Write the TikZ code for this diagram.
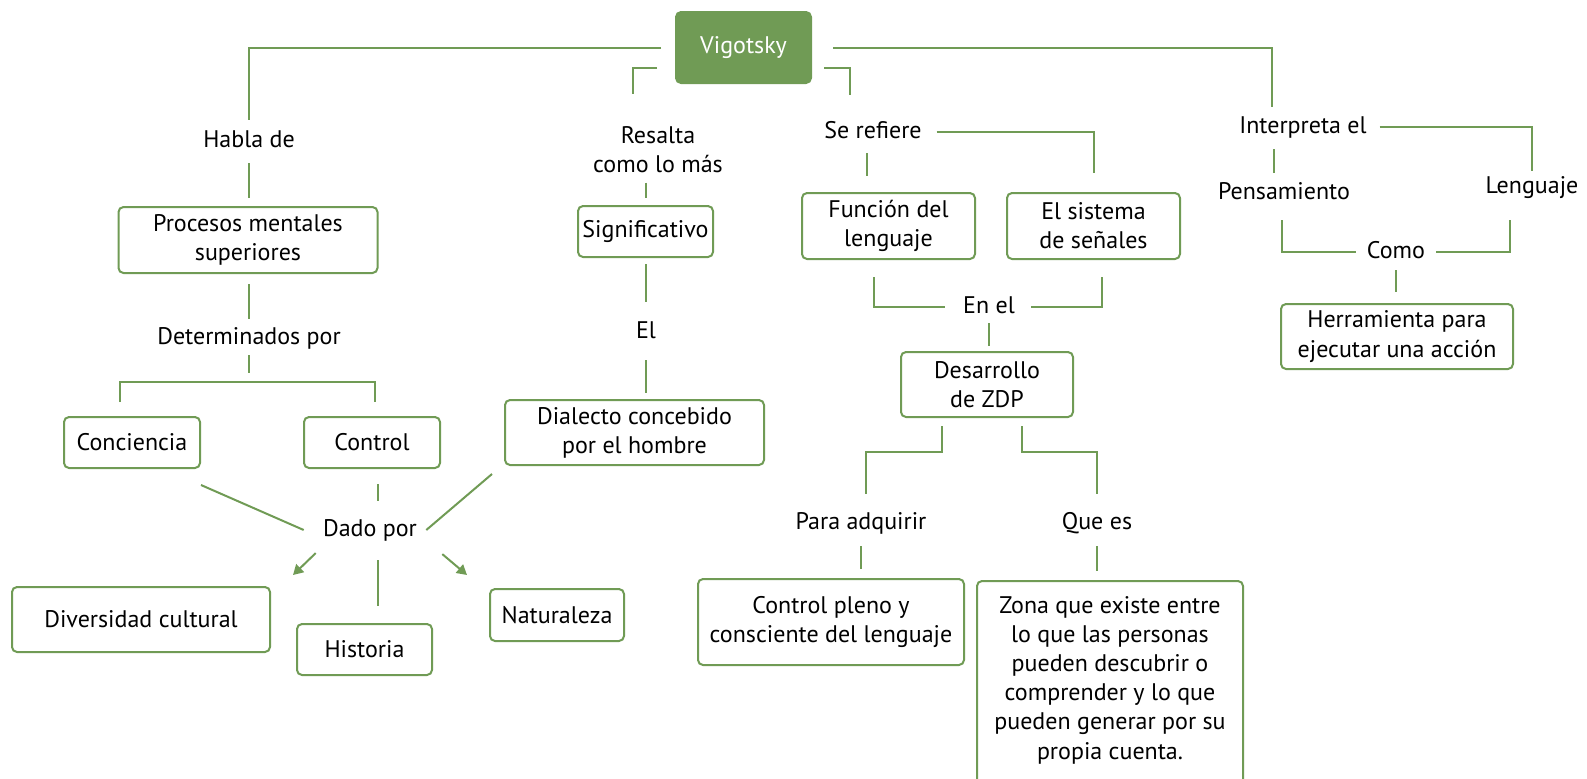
\documentclass[tikz,border=0pt]{standalone}
\usepackage{fontspec}
\setmainfont{PT Sans}
\usetikzlibrary{arrows.meta,positioning,calc}
\definecolor{vgreen}{RGB}{112,155,85}
\newcommand{\mapfont}{\fontsize{12pt}{14.6pt}\selectfont}

\begin{document}
\begin{tikzpicture}[
    x=0.5pt, y=-0.5pt,
    box/.style={draw=vgreen, line width=1pt, rounded corners=2.5pt, align=center, inner sep=2pt, font=\mapfont},
    topic/.style={box, fill=vgreen, text=white},
    lbl/.style={inner sep=0pt, text height=8.5pt, text depth=2.2pt, font=\mapfont},
    link/.style={draw=vgreen, line width=1pt},
    arrow/.style={link, -{Triangle[length=5pt, width=5.5pt]}}
]
    \useasboundingbox (0,0) rectangle (1587,778);
    \clip (0,0) rectangle (1587,778);

    % Centro
    \node[topic, minimum width=67.5pt, minimum height=35.5pt] (vig) at (743.5,47.5) {Vigotsky};

    % Rama izquierda
    \node[lbl] (habla) at (249,141) {Habla de};
    \node[box, minimum width=129.5pt, minimum height=33pt] (procesos) at (248,240) {Procesos mentales\\superiores};
    \node[lbl] (determ) at (249,338) {Determinados por};
    \coordinate (detjoin) at (249,382);
    \node[box, minimum width=68pt, minimum height=25.5pt] (conciencia) at (132,442.5) {Conciencia};
    \node[box, minimum width=68pt, minimum height=25.5pt] (control) at (372,442.5) {Control};
    \node[lbl] (dado) at (370,530) {Dado por};
    \node[box, minimum width=129pt, minimum height=32.5pt] (diversidad) at (141,619.5) {Diversidad cultural};
    \node[box, minimum width=67.5pt, minimum height=25.5pt] (historia) at (364.5,649.5) {Historia};
    \node[box, minimum width=67pt, minimum height=26pt] (naturaleza) at (557,615) {Naturaleza};

    % Rama central
    \coordinate (resaltatop) at (633,94);
    \node[inner sep=0pt, align=center, font=\mapfont] (resalta) at (658,150) {Resalta\\como lo más};
    \node[box, minimum width=67.5pt, minimum height=25.5pt] (signif) at (645.5,231.5) {Significativo};
    \node[lbl] (el) at (646,332) {El};
    \node[box, minimum width=129.5pt, minimum height=32.5pt] (dialecto) at (634.5,432.5) {Dialecto concebido\\por el hombre};

    % Rama del lenguaje
    \coordinate (refieretop) at (850,95);
    \node[lbl] (serefiere) at (873,132) {Se refiere};
    \node[box, minimum width=86.5pt, minimum height=33pt] (funcion) at (888.5,226) {Función del\\lenguaje};
    \node[box, minimum width=86.5pt, minimum height=33pt] (sistema) at (1093.5,226) {El sistema\\de señales};
    \node[lbl] (enel) at (989,307) {En el};
    \node[box, minimum width=86pt, minimum height=32.5pt] (zdp) at (987,384.5) {Desarrollo\\de ZDP};
    \node[lbl] (paraadq) at (861,523) {Para adquirir};
    \node[lbl] (quees) at (1097,523) {Que es};
    \node[box, minimum width=133pt, minimum height=43pt] (pleno) at (831,622) {Control pleno y\\consciente del lenguaje};
    \node[box, anchor=north, minimum width=133pt, inner ysep=7.5pt] (zona) at (1110,580) {Zona que existe entre\\lo que las personas\\pueden descubrir o\\comprender y lo que\\pueden generar por su\\propia cuenta.\rule[-60pt]{0pt}{0pt}};

    % Rama derecha
    \node[lbl] (interp) at (1303,127) {Interpreta el};
    \node[lbl] (pensamiento) at (1284,193) {Pensamiento};
    \node[lbl] (lenguaje) at (1532,187) {Lenguaje};
    \node[lbl] (como) at (1396,252) {Como};
    \node[box, minimum width=116pt, minimum height=32.5pt] (herram) at (1397,336.5) {Herramienta para\\ejecutar una acción};

    % Conectores izquierda
    \draw[link, shorten <=7pt, shorten >=5pt] (vig.west) -| (habla.north);
    \draw[link, shorten <=5.5pt, shorten >=4pt] (habla.south) -- (habla.south |- procesos.north);
    \draw[link, shorten <=5pt, shorten >=4pt] (habla.south |- procesos.south) -- (determ.north);
    \draw[link, shorten <=3pt, shorten >=4.5pt] (determ.south) -- (detjoin);
    \draw[link, shorten <=7pt, shorten >=7pt] ([xshift=-6pt]conciencia.north) |- (detjoin) -| ([xshift=1.5pt]control.north);
    \draw[link, shorten <=7.5pt, shorten >=9pt] ([xshift=3pt]control.south) -- ([xshift=3pt]control.south |- dado.north);
    \draw[link] ([yshift=-8pt]conciencia.south east) -- ([xshift=-9.5pt]dado.west);
    \draw[link] ([shift={(-6pt,-4pt)}]dialecto.south west) -- ([xshift=4.5pt]dado.east);
    \draw[arrow] ([shift={(-3.5pt,-6pt)}]dado.south west) -- ([shift={(11pt,5.5pt)}]diversidad.north east);
    \draw[arrow] ([shift={(12.5pt,-6.5pt)}]dado.south east) -- ([shift={(-11pt,6.5pt)}]naturaleza.north west);
    \draw[link, shorten <=9.5pt, shorten >=8.5pt] ([xshift=4pt]dado.south) -- ([xshift=4pt]dado.south |- historia.north);

    % Conectores centro
    \draw[link, shorten <=9pt] ([yshift=-10.25pt]vig.west) -| (resaltatop);
    \draw[link, shorten <=4.5pt, shorten >=3.5pt] (resalta.south -| signif.north) -- (signif.north);
    \draw[link, shorten <=3pt, shorten >=9.5pt] (signif.south) -- (signif.south |- el.north);
    \draw[link, shorten <=8.5pt, shorten >=3pt] (el.south) -- (el.south |- dialecto.north);

    % Conectores lenguaje
    \draw[link, shorten <=6pt] ([yshift=-10.25pt]vig.east) -| (refieretop);
    \draw[link, shorten <=7.25pt, shorten >=9.5pt] (serefiere.east) -| (sistema.north);
    \draw[link, shorten <=5pt, shorten >=8pt] ([xshift=-3pt]serefiere.south) -- ([xshift=-3pt]serefiere.south |- funcion.north);
    \draw[link, shorten <=8.5pt, shorten >=8.75pt] ([xshift=-7.25pt]funcion.south) |- (enel.west);
    \draw[link, shorten <=8.5pt, shorten >=7.75pt] ([xshift=4.25pt]sistema.south) |- (enel.east);
    \draw[link, shorten <=2.5pt, shorten >=2.5pt] (enel.south) -- (enel.south |- zdp.north);
    \draw[link, shorten >=9pt] ([xshift=-22.5pt,yshift=-4pt]zdp.south) -- ++(0,26) -| ([xshift=2.5pt]paraadq.north);
    \draw[link, shorten >=9pt] ([xshift=17.5pt,yshift=-4pt]zdp.south) -- ++(0,26) -| (quees.north);
    \draw[link, shorten <=6pt, shorten >=4.5pt] (paraadq.south) -- (paraadq.south |- pleno.north);
    \draw[link, shorten <=6pt, shorten >=4.5pt] (quees.south) -- (quees.south |- zona.north);

    % Conectores derecha
    \draw[link, shorten <=10.5pt, shorten >=4.5pt] (vig.east) -| ([xshift=-15.5pt]interp.north);
    \draw[link, shorten <=6.25pt, shorten >=2.5pt] (interp.east) -| (lenguaje.north);
    \draw[link, shorten <=5.5pt, shorten >=4.5pt] ([xshift=-14.5pt]interp.south) -- ([xshift=-14.5pt]interp.south |- pensamiento.north);
    \draw[link, shorten <=8pt, shorten >=5.25pt] ([xshift=-1pt]pensamiento.south) |- (como.west);
    \draw[link, shorten <=11pt, shorten >=5.25pt] ([xshift=-11pt]lenguaje.south) |- (como.east);
    \draw[link, shorten <=3.5pt, shorten >=5.5pt] (como.south) -- (como.south |- herram.north);
\end{tikzpicture}
\end{document}
